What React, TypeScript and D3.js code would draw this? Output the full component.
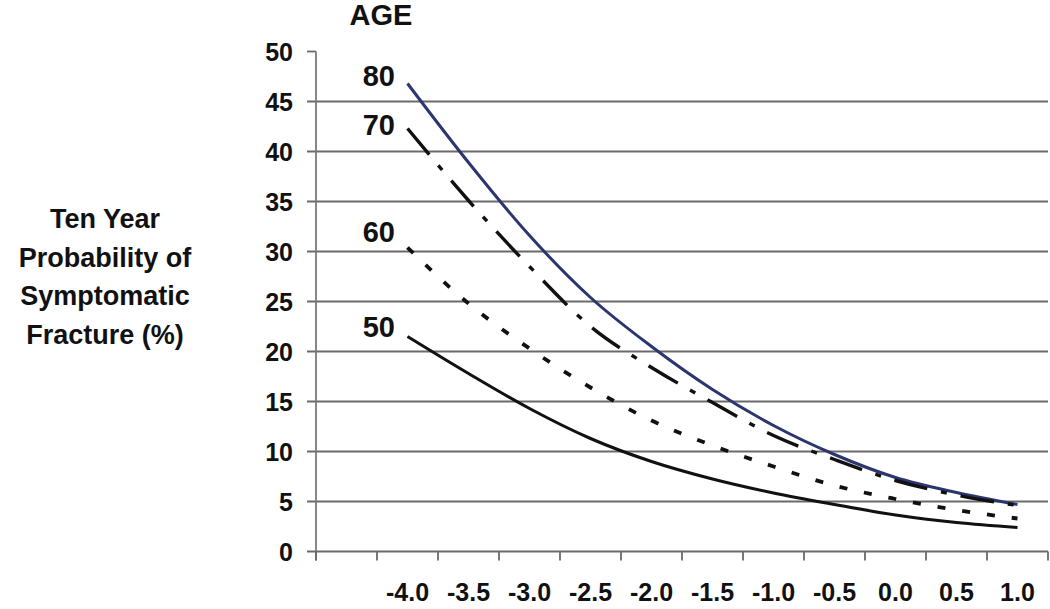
import React from "react";
import * as d3 from "d3";

const xVals = [-4.0, -3.5, -3.0, -2.5, -2.0, -1.5, -1.0, -0.5, 0.0, 0.5, 1.0];
const age80 = [46.8, 38.9, 31.6, 25.4, 20.5, 16.2, 12.6, 9.7, 7.4, 5.9, 4.7];
const age70 = [42.3, 35.1, 28.5, 22.5, 18.4, 14.9, 11.6, 9.2, 7.1, 5.65, 4.6];
const age60 = [30.4, 24.8, 20.3, 16.4, 13.1, 10.6, 8.5, 6.6, 5.25, 4.15, 3.3];
const age50 = [21.5, 17.8, 14.3, 11.3, 9.0, 7.25, 5.85, 4.7, 3.65, 2.9, 2.4];
const yTicks = [0, 5, 10, 15, 20, 25, 30, 35, 40, 45, 50];
const xTickLabels = ["-4.0", "-3.5", "-3.0", "-2.5", "-2.0", "-1.5", "-1.0", "-0.5", "0.0", "0.5", "1.0"];
const seriesNames = ["80", "70", "60", "50"];
const yTitle = ["Ten Year", "Probability of", "Symptomatic", "Fracture (%)"];
const legendTitle = "AGE";

const W = 1050;
const H = 609;
const FONT = "'Liberation Sans', Arial, sans-serif";

export default function App() {
  const x = d3.scaleLinear().domain([-4.75, 1.25]).range([316, 1048]);
  const y = d3.scaleLinear().domain([0, 50]).range([551.5, 51.5]);

  const line = d3
    .line<number>()
    .x((_, i) => x(xVals[i]))
    .y((d) => y(d))
    .curve(d3.curveMonotoneX);

  const series = [
    { name: seriesNames[0], data: age80, color: "#2b3570", width: 3, dash: undefined as string | undefined, labelY: 86 },
    { name: seriesNames[1], data: age70, color: "#111", width: 3.4, dash: "34,14,6,14", labelY: 135 },
    { name: seriesNames[2], data: age60, color: "#111", width: 3.8, dash: "8,17", labelY: 242 },
    { name: seriesNames[3], data: age50, color: "#111", width: 3, dash: undefined, labelY: 337 },
  ];

  const xTickPositions = d3.range(13).map((k) => -4.75 + 0.5 * k);

  return (
    <svg
      width={W}
      height={H}
      style={{ position: "absolute", left: 0, top: 0, background: "#fff" }}
      fontFamily={FONT}
      fontWeight="bold"
    >
      <rect x={0} y={0} width={W} height={H} fill="#fff" />
      {yTicks.filter((t) => t > 0 && t < 50).map((t) => (
        <line key={"g" + t} x1={307} x2={1048} y1={y(t)} y2={y(t)} stroke="#6a6a6a" strokeWidth={1.8} />
      ))}
      <line x1={307} x2={316} y1={y(50)} y2={y(50)} stroke="#6a6a6a" strokeWidth={1.8} />
      <line x1={316} x2={316} y1={y(50)} y2={y(0) + 9} stroke="#7a7a7a" strokeWidth={1.8} />
      <line x1={307} x2={1048} y1={y(0)} y2={y(0)} stroke="#6a6a6a" strokeWidth={2} />
      {xTickPositions.map((v, i) => (
        <line key={"xt" + i} x1={x(v)} x2={x(v)} y1={y(0)} y2={y(0) + 9} stroke="#6a6a6a" strokeWidth={1.8} />
      ))}
      {yTicks.map((t) => (
        <text key={"yl" + t} x={293} y={y(t) + 9} textAnchor="end" fontSize={25} fill="#111">
          {t}
        </text>
      ))}
      {xTickLabels.map((lab, i) => (
        <text key={"xl" + i} x={x(xVals[i])} y={601} textAnchor="middle" fontSize={25} fill="#111">
          {lab}
        </text>
      ))}
      {yTitle.map((s, i) => (
        <text key={"yt" + i} x={105} y={228 + i * 38.5} textAnchor="middle" fontSize={27} fill="#111">
          {s}
        </text>
      ))}
      <text x={381} y={25} textAnchor="middle" fontSize={29} fill="#111">
        {legendTitle}
      </text>
      {series.map((s) => (
        <g key={s.name}>
          <path
            d={line(s.data) || ""}
            fill="none"
            stroke={s.color}
            strokeWidth={s.width}
            strokeDasharray={s.dash}
            strokeLinejoin="round"
          />
          <text x={395} y={s.labelY} textAnchor="end" fontSize={29} fill="#111">
            {s.name}
          </text>
        </g>
      ))}
    </svg>
  );
}
